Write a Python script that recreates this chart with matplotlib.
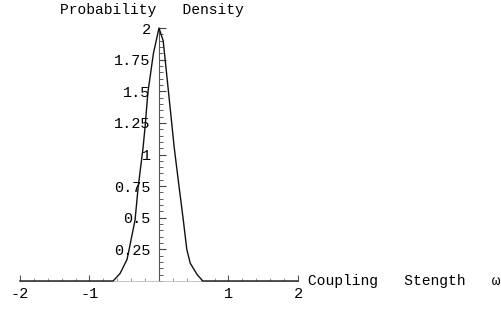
import numpy as np
import matplotlib.pyplot as plt
from matplotlib.ticker import MultipleLocator

# curve points
coupling = [-2.0, -0.66, -0.56, -0.46, -0.43, -0.345, -0.3, -0.23, -0.2, -0.16,
            -0.08, 0.0, 0.06, 0.13, 0.22, 0.29, 0.35, 0.40, 0.45, 0.55, 0.63, 2.0]
density = [0.0, 0.0, 0.06, 0.17, 0.25, 0.48, 0.74, 1.05, 1.22, 1.49,
           1.80, 2.0, 1.9, 1.53, 1.05, 0.74, 0.48, 0.25, 0.14, 0.05, 0.0, 0.0]

x_ticks = [-2, -1, 1, 2]
x_labels = ['-2', '-1', '1', '2']
y_ticks = [0.25, 0.5, 0.75, 1, 1.25, 1.5, 1.75, 2]
y_labels = ['0.25', '0.5', '0.75', '1', '1.25', '1.5', '1.75', '2']

font = 'Liberation Mono'

fig = plt.figure(figsize=(5.02, 3.13), dpi=100)
W, H = 502, 313
ax = fig.add_axes([20 / W, (H - 281) / H, 278 / W, 253 / H])

ax.plot(coupling, density, color='#111111', lw=1.0, clip_on=False, zorder=3)

ax.set_xlim(-2, 2)
ax.set_ylim(0, 2)

for s in ['top', 'right']:
    ax.spines[s].set_visible(False)
ax.spines['left'].set_position(('data', 0))
ax.spines['left'].set_color('#555555')
ax.spines['bottom'].set_color('#bbbbbb')
ax.spines['left'].set_linewidth(0.8)
ax.spines['bottom'].set_linewidth(0.6)

ax.set_xticks(x_ticks)
ax.set_xticklabels(x_labels, fontfamily=font, fontsize=11)
ax.set_yticks(y_ticks)
ax.set_yticklabels(y_labels, fontfamily=font, fontsize=11)
ax.xaxis.set_minor_locator(MultipleLocator(0.2))
ax.yaxis.set_minor_locator(MultipleLocator(0.05))

ax.tick_params(axis='x', which='major', direction='in', length=4, color='#555555', pad=4)
ax.tick_params(axis='x', which='minor', direction='in', length=2, color='#888888')
ax.tick_params(axis='y', which='major', direction='in', length=5, color='#444444', pad=6)
ax.tick_params(axis='y', which='minor', direction='in', length=3, color='#444444')

fig.text(60 / W, 1 - 10 / H, 'Probability   Density', fontfamily=font,
         fontsize=10.5, ha='left', va='center')
ax.text(2.14, 0.0, 'Coupling   Stength   \u03c9', fontfamily=[font, 'DejaVu Sans'],
        fontsize=10.5, ha='left', va='center', clip_on=False)

fig.savefig('out.png', dpi=100)
